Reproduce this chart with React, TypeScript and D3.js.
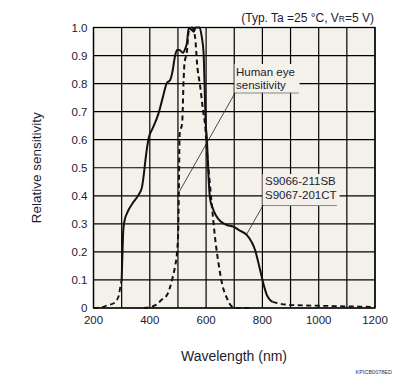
import React from "react";
import * as d3 from "d3";

const xTicks = [200, 300, 400, 500, 600, 700, 800, 900, 1000, 1100, 1200];
const xTickLabels = ["200", "", "400", "", "600", "", "800", "", "1000", "", "1200"];
const yTicks = [0, 0.1, 0.2, 0.3, 0.4, 0.5, 0.6, 0.7, 0.8, 0.9, 1.0];
const yTickLabels = ["0", "0.1", "0.2", "0.3", "0.4", "0.5", "0.6", "0.7", "0.8", "0.9", "1.0"];

// Photodiode (solid part)
const pdSolid: [number, number][] = [
  [300, 0.1], [303, 0.2], [306, 0.28], [310, 0.31], [320, 0.34], [340, 0.375], [361, 0.405],
  [372, 0.43], [378, 0.47], [386, 0.54], [396, 0.605], [410, 0.64], [431, 0.694], [446, 0.75],
  [461, 0.803], [472, 0.812], [480, 0.84], [490, 0.9], [497, 0.92], [505, 0.92], [518, 0.91],
  [526, 0.925], [532, 0.945], [538, 0.997], [550, 0.99], [556, 0.985], [563, 1.0], [577, 1.0],
  [584, 0.97], [591, 0.91], [595, 0.78], [598, 0.67], [603, 0.6], [608, 0.48], [614, 0.39],
  [622, 0.36], [635, 0.33], [650, 0.31], [674, 0.296], [697, 0.29], [720, 0.276], [745, 0.26],
  [762, 0.235], [774, 0.207], [786, 0.16], [798, 0.11], [808, 0.07], [816, 0.046], [826, 0.03],
  [836, 0.022],
];
// Photodiode dashed extensions
const pdLeft: [number, number][] = [
  [200, 0], [230, 0.003], [250, 0.01], [272, 0.017], [284, 0.03], [290, 0.045], [296, 0.08], [300, 0.1],
];
const pdRight: [number, number][] = [
  [836, 0.022], [860, 0.016], [887, 0.012], [950, 0.009], [1000, 0.008], [1100, 0.006], [1200, 0.004],
];
// Human eye sensitivity (dashed)
const eye: [number, number][] = [
  [378, 0], [400, 0.003], [420, 0.01], [443, 0.03], [461, 0.046], [479, 0.1], [490, 0.15],
  [497, 0.2], [501, 0.28], [503, 0.4], [506, 0.62], [515, 0.66], [520, 0.81], [523, 0.87],
  [532, 0.915], [538, 0.985], [550, 1.0], [556, 0.99], [562, 0.955], [568, 0.87], [579, 0.79],
  [589, 0.705], [597, 0.646], [603, 0.56], [610, 0.48], [621, 0.36], [633, 0.24], [644, 0.16],
  [656, 0.09], [674, 0.035], [692, 0.005], [705, 0], [765, 0],
];

const W = 396;
const H = 380;
const BG = "#f3f1ea";
const FONT = "'Liberation Sans', Arial, sans-serif";
const TXT = "#1c1c30";

export default function App() {
  const x = d3.scaleLinear().domain([200, 1200]).range([93.5, 375]);
  const y = d3.scaleLinear().domain([0, 1]).range([308, 27.5]);
  const line = d3
    .line<[number, number]>()
    .x((d) => x(d[0]))
    .y((d) => y(d[1]))
    .curve(d3.curveMonotoneX);

  const [x0, x1] = x.range();
  const [yb, yt] = y.range();

  return (
    <div style={{ position: "absolute", left: 0, top: 0 }}>
      <svg width={W} height={H} style={{ display: "block", background: "#fff" }}>
        <rect x={x0} y={yt} width={x1 - x0} height={yb - yt} fill={BG} />
        {xTicks.map((t) => (
          <line key={"gx" + t} x1={x(t)} x2={x(t)} y1={yt} y2={yb} stroke="#000" strokeWidth={1.2} />
        ))}
        {yTicks.map((t) => (
          <line key={"gy" + t} x1={x0} x2={x1} y1={y(t)} y2={y(t)} stroke="#000" strokeWidth={1.2} />
        ))}
        <rect x={x0} y={yt} width={x1 - x0} height={yb - yt} fill="none" stroke="#000" strokeWidth={1.3} />

        {/* annotation backgrounds */}
        <rect x={234.5} y={64} width={65} height={28.5} fill={BG} />
        <rect x={262.5} y={174} width={77} height={31} fill={BG} />

        {/* curves */}
        <path d={line(eye) || ""} fill="none" stroke="#111" strokeWidth={2} strokeDasharray="5,3.5" />
        <path d={line(pdLeft) || ""} fill="none" stroke="#111" strokeWidth={1.8} strokeDasharray="5,3.5" />
        <path d={line(pdRight) || ""} fill="none" stroke="#111" strokeWidth={1.8} strokeDasharray="5,3.5" />
        <path d={line(pdSolid) || ""} fill="none" stroke="#111" strokeWidth={2} />

        {/* annotations */}
        <g fontFamily={FONT} fontSize={11.5} fill={TXT}>
          <text x={236} y={76}>Human eye</text>
          <text x={236} y={89.3}>sensitivity</text>
          <text x={265} y={185}>S9066-211SB</text>
          <text x={265} y={199.3}>S9067-201CT</text>
        </g>
        <line x1={235} x2={299} y1={93} y2={93} stroke="#888" strokeWidth={1} />
        <line x1={235} x2={179.3} y1={93} y2={191.7} stroke="#222" strokeWidth={0.8} />
        <line x1={263} x2={337} y1={205.5} y2={205.5} stroke="#888" strokeWidth={1} />
        <line x1={263} x2={246.5} y1={205.5} y2={234.5} stroke="#222" strokeWidth={0.8} />

        {/* tick labels */}
        <g fontFamily={FONT} fontSize={11.5} fill={TXT}>
          {yTicks.map((t, i) => (
            <text key={"ty" + t} x={87.5} y={y(t)} dy="0.35em" textAnchor="end">
              {yTickLabels[i]}
            </text>
          ))}
          {xTicks.map((t, i) =>
            xTickLabels[i] ? (
              <text key={"tx" + t} x={x(t)} y={323.5} textAnchor="middle">
                {xTickLabels[i]}
              </text>
            ) : null
          )}
        </g>

        {/* axis titles */}
        <text x={234} y={360.5} textAnchor="middle" fontFamily={FONT} fontSize={14} fill={TXT}>
          Wavelength (nm)
        </text>
        <text
          transform={`translate(40.5, ${(yt + yb) / 2}) rotate(-90)`}
          textAnchor="middle"
          fontFamily={FONT}
          fontSize={13.5}
          fill={TXT}
        >
          Relative sensitivity
        </text>
        <text x={374} y={22} textAnchor="end" fontFamily={FONT} fontSize={12} fill={TXT}>
          (Typ. Ta =25 °C, V<tspan fontSize={8.5}>R</tspan>=5 V)
        </text>
        <text x={392} y={374} textAnchor="end" fontFamily={FONT} fontSize={5.5} fill="#2a2a6a">
          KPICB0078ED
        </text>
      </svg>
    </div>
  );
}
